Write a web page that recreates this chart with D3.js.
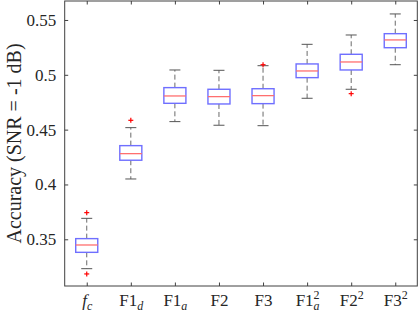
<!DOCTYPE html>
<html><head><meta charset="utf-8">
<script src="https://cdn.jsdelivr.net/npm/d3@7"></script>
<style>
html,body{margin:0;padding:0;background:#fff;}
svg{display:block;}
text{font-family:"Liberation Serif","DejaVu Serif",serif;fill:#262626;}
</style></head>
<body><svg id="c" width="419" height="315"></svg>
<script>
// ---- data ----
const categories = ["fc","F1d","F1a","F2","F3","F1a2","F22","F32"];
const whiskerLow  = [0.3232, 0.4050, 0.4573, 0.4540, 0.4536, 0.4786, 0.4868, 0.5092];
const q1          = [0.3381, 0.4221, 0.4740, 0.4734, 0.4737, 0.4974, 0.5044, 0.5247];
const median      = [0.3448, 0.4281, 0.4807, 0.4801, 0.4810, 0.5035, 0.5117, 0.5318];
const q3          = [0.3506, 0.4354, 0.4883, 0.4868, 0.4873, 0.5099, 0.5187, 0.5375];
const whiskerHigh = [0.3691, 0.4518, 0.5044, 0.5041, 0.5083, 0.5278, 0.5363, 0.5555];
const outliers    = [[0.3743, 0.3184], [0.4585], [], [], [0.5092], [], [0.4828], []];
const yTicks = [0.35, 0.40, 0.45, 0.50, 0.55];
const yTickLabels = ["0.35","0.4","0.45","0.5","0.55"];
// label parts: [base, italicBase, sub, sup]
const xLabels = [
  {base:"f", italic:true, sub:"c", sup:""},
  {base:"F1", italic:false, sub:"d", sup:""},
  {base:"F1", italic:false, sub:"a", sup:""},
  {base:"F2", italic:false, sub:"", sup:""},
  {base:"F3", italic:false, sub:"", sup:""},
  {base:"F1", italic:false, sub:"a", sup:"2"},
  {base:"F2", italic:false, sub:"", sup:"2"},
  {base:"F3", italic:false, sub:"", sup:"2"}
];
const yDomain = [0.3074, 0.5673];

// ---- layout ----
const L = 64.7, R = 417.3, T = 1, B = 286;
const svg = d3.select("#c");
const x = d3.scalePoint().domain(categories).range([L, R]).padding(0.5);
const y = d3.scaleLinear().domain(yDomain).range([B, T]);
const boxW = x.step() * 0.5;
const axisCol = "#404040";

const data = categories.map((c, i) => ({
  c, lo: whiskerLow[i], q1: q1[i], med: median[i], q3: q3[i], hi: whiskerHigh[i], out: outliers[i]
}));

const g = svg.append("g");

// whiskers (dashed)
g.selectAll(".wu").data(data).enter().append("line")
  .attr("x1", d => x(d.c)).attr("x2", d => x(d.c))
  .attr("y1", d => y(d.q3)).attr("y2", d => y(d.hi))
  .attr("stroke", "#6a6a6a").attr("stroke-width", 1).attr("stroke-dasharray", "5,3");
g.selectAll(".wl").data(data).enter().append("line")
  .attr("x1", d => x(d.c)).attr("x2", d => x(d.c))
  .attr("y1", d => y(d.q1)).attr("y2", d => y(d.lo))
  .attr("stroke", "#6a6a6a").attr("stroke-width", 1).attr("stroke-dasharray", "5,3");
// caps
["hi","lo"].forEach(k => {
  g.selectAll(".cap" + k).data(data).enter().append("line")
    .attr("x1", d => x(d.c) - boxW / 4).attr("x2", d => x(d.c) + boxW / 4)
    .attr("y1", d => y(d[k])).attr("y2", d => y(d[k]))
    .attr("stroke", "#555").attr("stroke-width", 1);
});
// boxes
g.selectAll(".box").data(data).enter().append("rect")
  .attr("x", d => x(d.c) - boxW / 2).attr("width", boxW)
  .attr("y", d => y(d.q3)).attr("height", d => y(d.q1) - y(d.q3))
  .attr("fill", "none").attr("stroke", "#6f6fff").attr("stroke-width", 1.4);
// medians
g.selectAll(".med").data(data).enter().append("line")
  .attr("x1", d => x(d.c) - boxW / 2).attr("x2", d => x(d.c) + boxW / 2)
  .attr("y1", d => y(d.med)).attr("y2", d => y(d.med))
  .attr("stroke", "#ff6f6f").attr("stroke-width", 1.3);
// outliers (+)
const outPts = [];
data.forEach(d => d.out.forEach(v => outPts.push({c: d.c, v})));
const pl = 2.5;
const og = g.selectAll(".out").data(outPts).enter().append("g")
  .attr("transform", d => `translate(${x(d.c)},${y(d.v)})`);
og.append("line").attr("x1", -pl).attr("x2", pl).attr("y1", 0).attr("y2", 0)
  .attr("stroke", "#ff0000").attr("stroke-width", 1.2);
og.append("line").attr("x1", 0).attr("x2", 0).attr("y1", -pl).attr("y2", pl)
  .attr("stroke", "#ff0000").attr("stroke-width", 1.2);

// axes box
svg.append("rect").attr("x", L).attr("y", T).attr("width", R - L).attr("height", B - T)
  .attr("fill", "none").attr("stroke", axisCol).attr("stroke-width", 1);

const tl = 3.5;
// y axis left and right
const yAxisL = d3.axisLeft(y).tickValues(yTicks).tickSizeInner(-tl).tickSizeOuter(0)
  .tickPadding(5 + tl).tickFormat((d, i) => yTickLabels[i]);
const gyl = svg.append("g").attr("transform", `translate(${L},0)`).call(yAxisL);
gyl.select(".domain").remove();
gyl.selectAll("line").attr("stroke", axisCol);
gyl.selectAll("text").attr("font-size", 17).attr("font-family", "Liberation Serif").attr("fill", "#262626");

const yAxisR = d3.axisRight(y).tickValues(yTicks).tickSizeInner(-tl).tickSizeOuter(0).tickFormat("");
const gyr = svg.append("g").attr("transform", `translate(${R},0)`).call(yAxisR);
gyr.select(".domain").remove();
gyr.selectAll("line").attr("stroke", axisCol);

// x axis bottom and top
const xAxisB = d3.axisBottom(x).tickSizeInner(-tl).tickSizeOuter(0).tickFormat("");
const gxb = svg.append("g").attr("transform", `translate(0,${B})`).call(xAxisB);
gxb.select(".domain").remove();
gxb.selectAll("line").attr("stroke", axisCol);
const xAxisT = d3.axisTop(x).tickSizeInner(-tl).tickSizeOuter(0).tickFormat("");
const gxt = svg.append("g").attr("transform", `translate(0,${T})`).call(xAxisT);
gxt.select(".domain").remove();
gxt.selectAll("line").attr("stroke", axisCol);

// x tick labels with sub/superscripts
gxb.selectAll(".tick").each(function(d, i) {
  const lab = xLabels[i];
  const t = d3.select(this).append("text")
    .attr("y", 20).attr("text-anchor", "middle")
    .attr("font-size", 17).attr("fill", "#262626");
  t.append("tspan").text(lab.base).attr("font-style", lab.italic ? "italic" : "normal");
  if (lab.sub && lab.sup) {
    const s1 = t.append("tspan").text(lab.sub).attr("font-size", 12).attr("font-style", "italic").attr("dy", 4);
    t.append("tspan").text(lab.sup).attr("font-size", 12).attr("dx", -6).attr("dy", -11);
  } else if (lab.sub) {
    t.append("tspan").text(lab.sub).attr("font-size", 12).attr("font-style", "italic").attr("dy", 4);
  } else if (lab.sup) {
    t.append("tspan").text(lab.sup).attr("font-size", 12).attr("dy", -7);
  }
});

// y label
svg.append("text")
  .attr("transform", `translate(21,${(T + B) / 2}) rotate(-90)`)
  .attr("text-anchor", "middle").attr("font-size", 20).attr("fill", "#262626")
  .text("Accuracy (SNR = -1 dB)");
</script></body></html>
